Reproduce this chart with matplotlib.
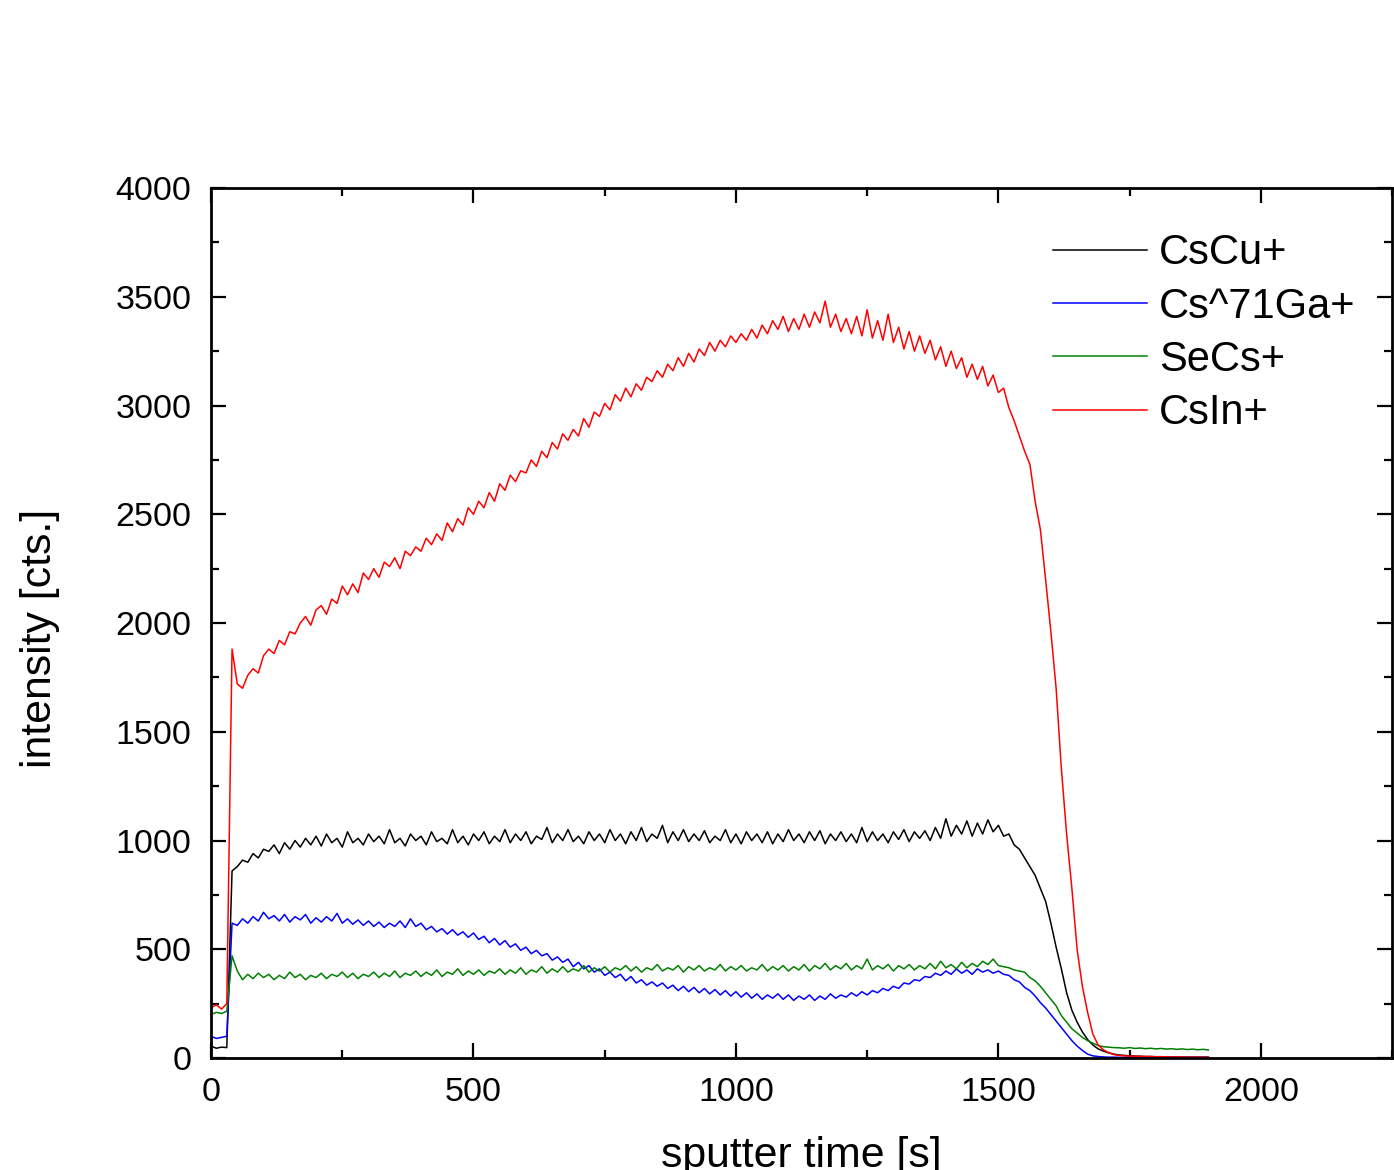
import numpy as np
import matplotlib
matplotlib.use('Agg')
import matplotlib.pyplot as plt
from matplotlib.ticker import MultipleLocator

plt.rcParams['font.family'] = ['Liberation Sans', 'DejaVu Sans']

# sputter time grid [s], one reading every 10 s
time_s = np.arange(0, 1901, 10)

# CsCu+ (black)
cscu = [55, 45, 50, 48,
        860, 880, 910, 900, 940, 920, 960, 950, 980, 940, 990, 960, 1000, 970, 1010, 980,
        1020, 975, 1030, 990, 1010, 970, 1040, 990, 1010, 980, 1030, 995, 1020, 985, 1050, 990,
        1010, 975, 1030, 1000, 1020, 980, 1040, 995, 1010, 985, 1050, 990, 1020, 980, 1030, 1000,
        1040, 985, 1020, 995, 1050, 990, 1030, 1000, 1040, 985, 1020, 1005, 1060, 990, 1030, 1000,
        1050, 995, 1020, 985, 1040, 1000, 1030, 990, 1050, 1000, 1030, 985, 1040, 1000, 1060, 995,
        1030, 1010, 1070, 990, 1040, 1000, 1050, 995, 1030, 1000, 1045, 990, 1020, 1000, 1050, 990,
        1030, 985, 1040, 1000, 1030, 990, 1040, 985, 1030, 995, 1050, 1000, 1030, 990, 1040, 1000,
        1045, 985, 1030, 1000, 1040, 995, 1030, 990, 1060, 995, 1040, 1000, 1030, 990, 1040, 1005,
        1050, 995, 1040, 1010, 1045, 1000, 1060, 1010, 1100, 1020, 1070, 1030, 1090, 1020, 1080, 1030,
        1095, 1040, 1070, 1020, 1030, 980, 960, 920, 880, 840, 780, 720, 620, 510, 410, 300,
        220, 165, 120, 85, 60, 42, 32, 24, 18,
        14, 12, 10, 9, 8, 7, 7, 6, 6, 5, 5, 5, 4, 4, 4, 4, 4, 4]

# Cs^71Ga+ (blue)
csga = [100, 90, 95, 100,
        620, 610, 640, 620, 650, 630, 670, 640, 655, 630, 660, 625, 650, 635, 660, 620,
        645, 625, 650, 630, 665, 620, 640, 615, 635, 610, 630, 605, 625, 600, 620, 605,
        630, 600, 640, 605, 620, 590, 605, 580, 595, 570, 590, 565, 580, 555, 575, 545,
        560, 530, 550, 520, 540, 510, 525, 495, 510, 480, 495, 470, 480, 450, 465, 440,
        455, 420, 440, 410, 425, 395, 410, 380, 395, 370, 385, 355, 375, 345, 360, 335,
        350, 330, 345, 320, 335, 310, 330, 305, 325, 300, 320, 295, 315, 290, 310, 285,
        305, 280, 300, 275, 295, 270, 290, 275, 295, 270, 290, 265, 285, 270, 290, 265,
        285, 270, 295, 275, 290, 280, 300, 285, 305, 290, 310, 300, 320, 310, 330, 320,
        345, 340, 360, 355, 375, 370, 390, 380, 400, 385, 410, 390, 405, 385, 410, 395,
        405, 390, 400, 385, 380, 360, 350, 325, 310, 285, 255, 230, 200, 170, 140, 110,
        80, 55, 35, 18, 10, 7, 5, 4, 4,
        3, 3, 3, 3, 3, 3, 3, 3, 3, 3, 3, 3, 3, 3, 3, 3, 3, 3]

# SeCs+ (green)
secs = [200, 210, 205, 215,
        470, 400, 360, 385, 365, 390, 370, 385, 360, 380, 365, 395, 370, 385, 360, 380,
        370, 390, 365, 385, 375, 395, 370, 390, 365, 385, 375, 395, 370, 390, 375, 400,
        370, 390, 380, 400, 375, 395, 380, 405, 375, 395, 385, 410, 380, 400, 385, 405,
        380, 400, 390, 410, 385, 405, 390, 415, 385, 405, 395, 420, 390, 410, 395, 420,
        395, 410, 400, 425, 395, 415, 400, 420, 395, 415, 405, 425, 400, 420, 395, 415,
        405, 430, 400, 415, 405, 425, 395, 420, 405, 425, 400, 415, 405, 430, 400, 420,
        405, 425, 400, 415, 405, 430, 400, 420, 405, 425, 400, 420, 405, 430, 400, 425,
        410, 435, 405, 425, 410, 435, 405, 425, 410, 455, 405, 425, 410, 430, 400, 425,
        410, 430, 405, 425, 410, 435, 410, 445, 415, 430, 410, 440, 415, 435, 420, 445,
        430, 455, 425, 420, 415, 405, 400, 395, 370, 355, 330, 300, 270, 240, 195, 165,
        135, 115, 95, 80, 68, 58, 52, 50, 48,
        47, 45, 48, 44, 46, 43, 45, 42, 44, 41, 43, 40, 42, 39, 41, 38, 40, 37]

# CsIn+ (red)
csin = [230, 245, 225, 250,
        1880, 1720, 1700, 1760, 1790, 1770, 1850, 1880, 1860, 1920, 1900, 1960, 1950, 2000, 2030, 1990,
        2060, 2080, 2040, 2110, 2090, 2170, 2130, 2180, 2140, 2230, 2200, 2250, 2210, 2280, 2260, 2300,
        2250, 2330, 2310, 2350, 2330, 2390, 2360, 2410, 2380, 2460, 2420, 2480, 2450, 2530, 2500, 2560,
        2530, 2600, 2560, 2640, 2610, 2680, 2650, 2700, 2690, 2750, 2720, 2790, 2760, 2830, 2800, 2870,
        2840, 2890, 2860, 2940, 2900, 2970, 2950, 3010, 2980, 3050, 3020, 3080, 3040, 3100, 3070, 3130,
        3110, 3160, 3130, 3190, 3160, 3220, 3180, 3240, 3200, 3260, 3230, 3290, 3250, 3300, 3270, 3320,
        3290, 3330, 3300, 3350, 3310, 3370, 3330, 3390, 3350, 3410, 3340, 3400, 3350, 3420, 3360, 3430,
        3380, 3480, 3360, 3420, 3340, 3400, 3330, 3410, 3320, 3440, 3310, 3390, 3300, 3420, 3290, 3360,
        3260, 3340, 3250, 3320, 3240, 3300, 3210, 3270, 3180, 3250, 3170, 3220, 3130, 3190, 3120, 3180,
        3090, 3140, 3060, 3080, 2990, 2930, 2860, 2790, 2730, 2560, 2430, 2200, 1960, 1700, 1330, 1030,
        780, 500, 330, 210, 110, 60, 38, 25, 16,
        12, 10, 9, 8, 8, 7, 7, 6, 6, 5, 5, 5, 5, 4, 4, 4, 4, 4]

series_names = ['CsCu+', 'Cs^71Ga+', 'SeCs+', 'CsIn+']
series_colors = ['black', 'blue', 'green', 'red']

fig = plt.figure(figsize=(13.94, 11.70), dpi=100)
ax = fig.add_axes([0.1514, 0.0957, 0.8472, 0.7436])

for vals, name, col in zip([cscu, csga, secs, csin], series_names, series_colors):
    ax.plot(time_s, vals, color=col, lw=1.1, label=name)

ax.set_xlim(0, 2250)
ax.set_ylim(0, 4000)
ax.xaxis.set_major_locator(MultipleLocator(500))
ax.xaxis.set_minor_locator(MultipleLocator(250))
ax.yaxis.set_major_locator(MultipleLocator(500))
ax.yaxis.set_minor_locator(MultipleLocator(250))

ax.tick_params(which='both', direction='in', top=True, right=True, width=1.6,
               labelsize=24.5, pad=14)
ax.tick_params(which='major', length=11)
ax.tick_params(which='minor', length=6)
for sp in ax.spines.values():
    sp.set_linewidth(2)

ax.set_xlabel('sputter time [s]', fontsize=30.8, labelpad=20)
ax.set_ylabel('intensity [cts.]', fontsize=30.8)
ax.yaxis.set_label_coords(-0.128, 0.482)

ax.legend(loc='upper left', bbox_to_anchor=(0.713, 0.948), frameon=False,
          fontsize=30, handlelength=2.25, handletextpad=0.3, labelspacing=0.32,
          borderpad=0, borderaxespad=0)

plt.savefig('out.png', dpi=100)
